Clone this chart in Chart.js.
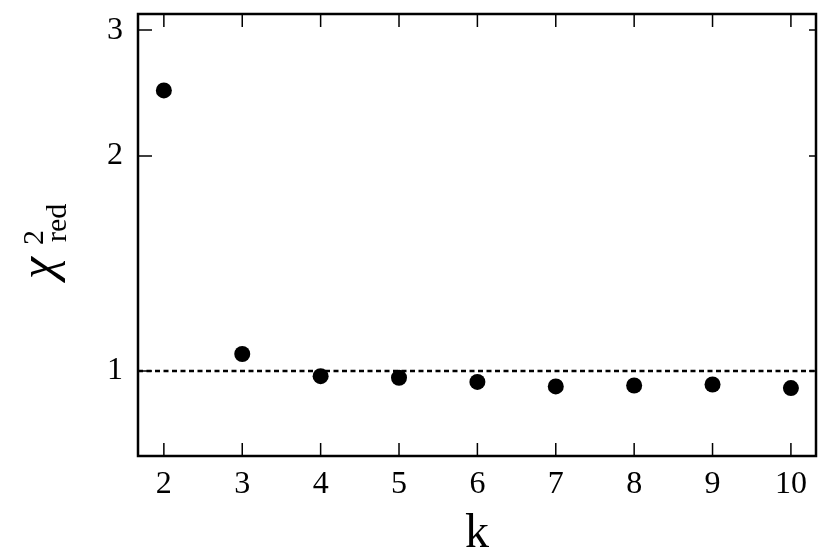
<!DOCTYPE html>
<html>
<head>
<meta charset="utf-8">
<script src="https://cdn.jsdelivr.net/npm/chart.js@4.4.1/dist/chart.umd.min.js"></script>
<style>
  html, body { margin: 0; padding: 0; background: #fff; }
</style>
</head>
<body>
<canvas id="chi2" width="830" height="554"></canvas>
<script>
// data
const kValues = [2, 3, 4, 5, 6, 7, 8, 9, 10];
const chi2Red = [2.47, 1.056, 0.983, 0.978, 0.965, 0.951, 0.954, 0.957, 0.946];
const xTicks = [2, 3, 4, 5, 6, 7, 8, 9, 10];
const yTicks = [1, 2, 3];
const refLevel = 1;
const xRange = [1.67, 10.32];
const yRange = [0.76, 3.16];

const serif = "'Liberation Serif', 'DejaVu Serif', serif";
Chart.defaults.font.family = serif;
Chart.defaults.color = '#000';

// frame with inward ticks, plus the chi^2_red label
const framePlugin = {
    id: 'frame',
    afterDraw(chart) {
        const ctx = chart.ctx;
        const a = chart.chartArea;
        const xs = chart.scales.x;
        const ys = chart.scales.y;
        ctx.save();
        ctx.strokeStyle = '#000';
        ctx.lineWidth = 1.5;
        ctx.beginPath();
        xs.ticks.forEach(t => {
            const px = xs.getPixelForValue(t.value);
            ctx.moveTo(px, a.bottom); ctx.lineTo(px, a.bottom - 13);
            ctx.moveTo(px, a.top); ctx.lineTo(px, a.top + 13);
        });
        ys.ticks.forEach(t => {
            const py = ys.getPixelForValue(t.value);
            ctx.moveTo(a.left, py); ctx.lineTo(a.left + 14, py);
            ctx.moveTo(a.right, py); ctx.lineTo(a.right - 7, py);
        });
        ctx.stroke();
        ctx.lineWidth = 2.5;
        ctx.strokeRect(a.left, a.top, a.right - a.left, a.bottom - a.top);

        // y title: chi with superscript 2 and subscript red
        ctx.translate(54, 279);
        ctx.rotate(-Math.PI / 2);
        ctx.fillStyle = '#000';
        ctx.textBaseline = 'alphabetic';
        ctx.textAlign = 'left';
        ctx.font = 'italic 50px ' + serif;
        ctx.fillText('χ', 0, 0);
        ctx.font = '30px ' + serif;
        ctx.fillText('2', 34, -11);
        ctx.fillText('red', 37, 12);
        ctx.restore();
    }
};

new Chart(document.getElementById('chi2').getContext('2d'), {
    type: 'scatter',
    data: {
        datasets: [{
            label: 'chi2red',
            data: kValues.map((k, i) => ({ x: k, y: chi2Red[i] })),
            backgroundColor: '#000',
            borderWidth: 0,
            pointRadius: 8,
            pointHoverRadius: 8
        }, {
            label: 'ref',
            type: 'line',
            data: xRange.map(x => ({ x: x, y: refLevel })),
            borderColor: '#000',
            borderWidth: 2.5,
            borderDash: [5, 3.5],
            pointRadius: 0,
            fill: false
        }]
    },
    options: {
        responsive: false,
        animation: false,
        layout: { padding: { top: 14, right: 14, left: 0, bottom: 0 } },
        plugins: {
            legend: { display: false },
            tooltip: { enabled: false }
        },
        scales: {
            x: {
                type: 'linear',
                min: xRange[0],
                max: xRange[1],
                afterBuildTicks: s => { s.ticks = xTicks.map(v => ({ value: v })); },
                afterFit: s => { s.height = 98; s.paddingLeft = 0; s.paddingRight = 0; },
                grid: { display: false, drawTicks: false },
                border: { display: false },
                ticks: {
                    padding: 9,
                    font: { size: 32 },
                    callback: v => String(v)
                },
                title: {
                    display: true,
                    text: 'k',
                    font: { size: 48, lineHeight: 0.8 },
                    padding: { top: 0, bottom: 0 }
                }
            },
            y: {
                type: 'logarithmic',
                min: yRange[0],
                max: yRange[1],
                afterBuildTicks: s => { s.ticks = yTicks.map(v => ({ value: v })); },
                afterFit: s => { s.width = 138; s.paddingTop = 0; s.paddingBottom = 0; },
                grid: { display: false, drawTicks: false },
                border: { display: false },
                ticks: {
                    padding: 15,
                    font: { size: 32 },
                    callback: v => String(v)
                }
            }
        }
    },
    plugins: [framePlugin]
});
</script>
</body>
</html>
